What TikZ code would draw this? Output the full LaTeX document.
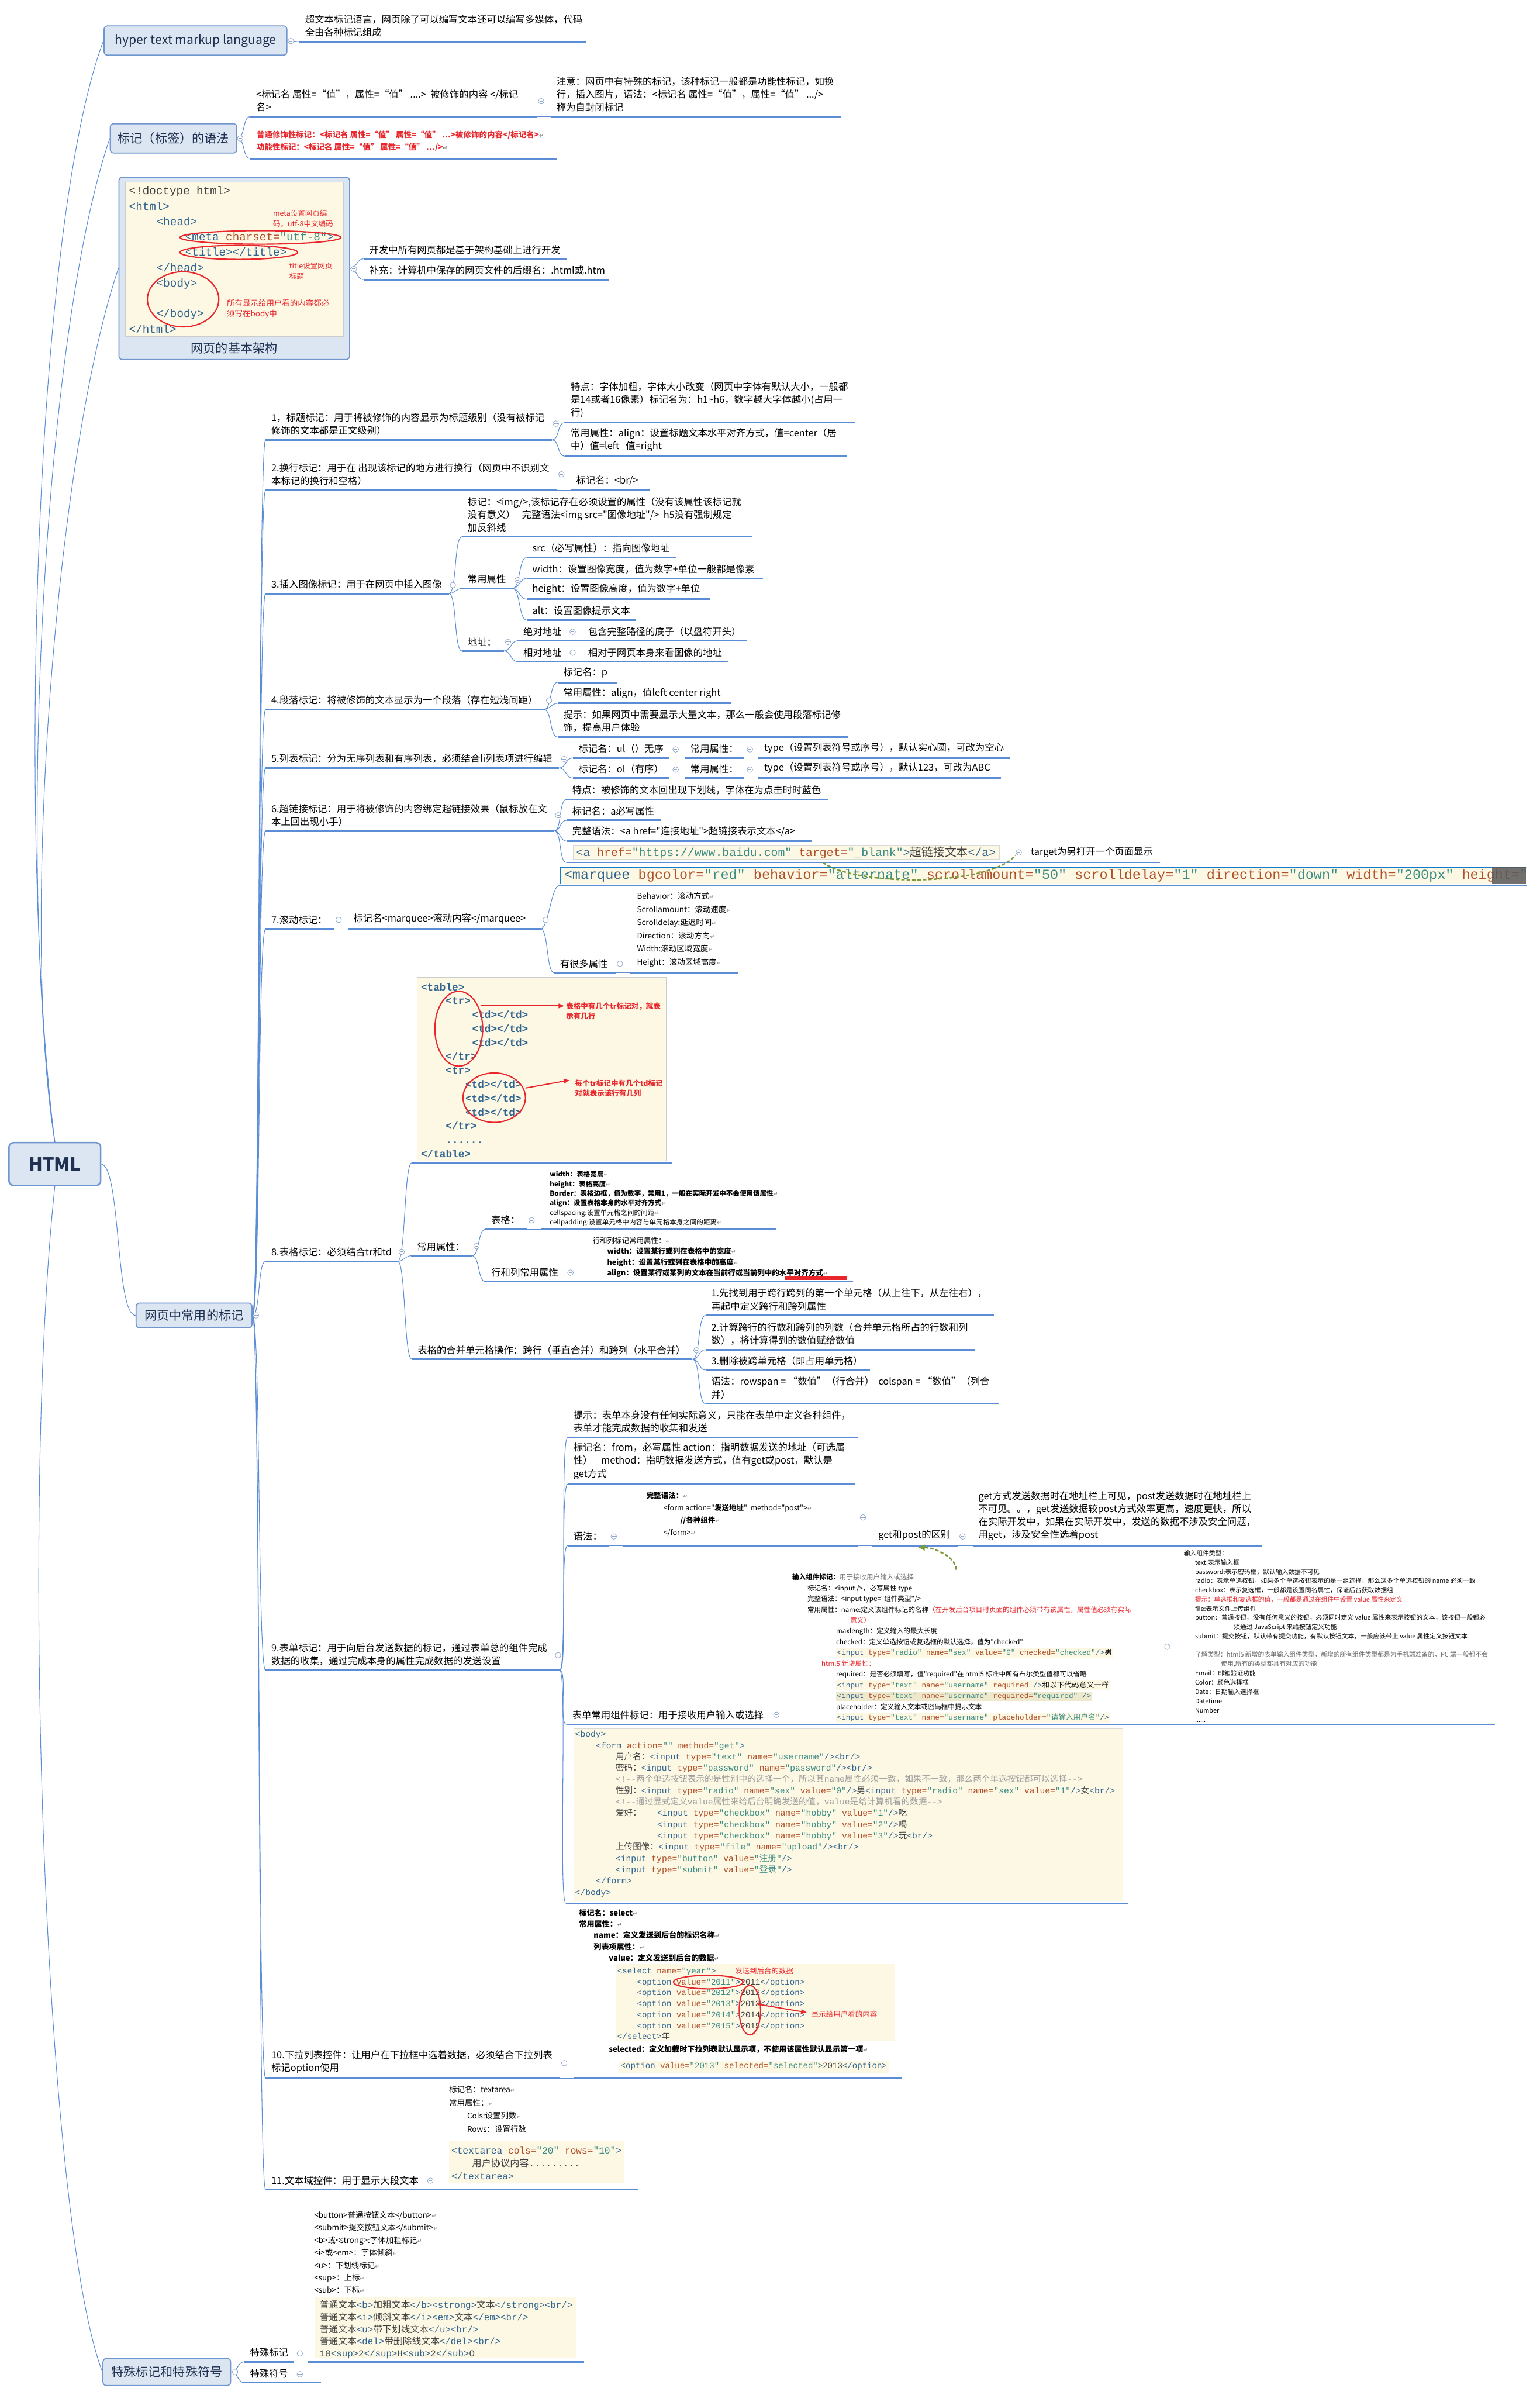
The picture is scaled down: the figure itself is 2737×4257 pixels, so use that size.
\documentclass[tikz,border=0pt]{standalone}
\usepackage{fontspec}
\usetikzlibrary{arrows.meta}
\newfontfamily\zhf{Noto Sans CJK SC}
\setmonofont{Liberation Mono}
\newfontfamily\djv{DejaVu Sans}
\definecolor{lb}{RGB}{91,141,214}
\definecolor{bxf}{HTML}{DCE6F2}
\definecolor{bxd}{HTML}{7096CF}
\definecolor{bxt}{HTML}{1F3050}
\definecolor{cream}{HTML}{FDF8E4}
\definecolor{creamd}{HTML}{EEE8CC}
\definecolor{ctag}{HTML}{2F6390}
\definecolor{catt}{HTML}{B0502A}
\definecolor{cval}{HTML}{3B8C85}
\definecolor{cgray}{HTML}{9C9C9C}
\definecolor{rd}{HTML}{E8262B}
\definecolor{gdash}{HTML}{7A9A3A}
\definecolor{ccol}{HTML}{8FA8CC}
\newcommand\fMain{\zhf\fontsize{8.5}{11.5}\selectfont}
\newcommand\fBox{\zhf\fontsize{11}{13}\selectfont}
\newcommand\rtn{{\djv\fontsize{5}{6}\selectfont\textcolor{gray}{↵}}}
\newcommand\cT[1]{\textcolor{ctag}{#1}}
\newcommand\cA[1]{\textcolor{catt}{#1}}
\newcommand\cV[1]{\textcolor{cval}{#1}}
\newcommand\zg[1]{{\zhf\color{black!75}#1}}
\newcommand\mmn[6][]{\draw[ul] (#3,#5) coordinate (#2l) -- (#4,#5) coordinate (#2r); \node[tx,#1] (#2) at (#3,#5) {#6};}
\newcommand\mmu[4]{\draw[ul] (#2,#4) coordinate (#1l) -- (#3,#4) coordinate (#1r);}
\newcommand\mml[2]{\draw[conn] (#1) to[out=0,in=180,max distance=7pt] (#2);}
\newcommand\mmc[3]{\node[cc] (#1) at (#2,#3) {};}
\setlength\fboxsep{0.8pt}
\tikzset{
 ul/.style={draw=lb, line width=1.5pt},
 conn/.style={draw=lb, line width=0.55pt},
 tx/.style={anchor=south west, inner sep=0pt, xshift=5pt, yshift=4pt, align=left, font=\fMain},
 blk/.style={anchor=north west, inner sep=0pt, align=left},
 cc/.style={circle, draw=ccol, fill=white, minimum size=5pt, inner sep=0pt, line width=0.4pt,
   path picture={\draw[ccol, line width=0.45pt] ([xshift=-1.5pt]path picture bounding box.center) -- ([xshift=1.5pt]path picture bounding box.center);}},
 box/.style={draw=bxd, fill=bxf, rounded corners=3pt, line width=0.9pt, font=\fBox, text=bxt, inner sep=0pt},
 gd/.style={draw=gdash, line width=1.3pt, dash pattern=on 3pt off 1.8pt},
 ann/.style={anchor=north west, inner sep=0pt, align=left, text=rd},
 ell/.style={draw=rd, line width=1.1pt},
 ra/.style={draw=rd, line width=1pt, -{Triangle[length=5pt,width=4pt]}},
}
\begin{document}
\begin{tikzpicture}[x=0.5pt,y=-0.5pt]
\useasboundingbox (0,0) rectangle (2737,4257);
\fill[white] (0,0) rectangle (2737,4257);

% ---------- level 1 boxes ----------
\node[box, line width=1.3pt, rounded corners=4pt, minimum width=81.5pt, minimum height=38pt, font=\zhf\bfseries\fontsize{16}{18}\selectfont] (root) at (97.5,2069) {HTML};
\node[box, minimum width=162.5pt, minimum height=26pt] (hyper) at (347.5,72) {hyper text markup language};
\node[box, minimum width=112.5pt, minimum height=26pt] (syn) at (308.5,246) {标记（标签）的语法};
\node[box, minimum width=205pt, minimum height=162pt] (arch) at (416.5,477) {};
\node[box, minimum width=103pt, minimum height=22pt] (common) at (345,2338) {网页中常用的标记};
\node[box, minimum width=113.5pt, minimum height=24pt] (special) at (296.5,4216) {特殊标记和特殊符号};

\draw[conn] (root.north) .. controls (30,1500) and (60,400) .. (hyper.west);
\draw[conn] (root.north) .. controls (30,1550) and (75,600) .. (syn.west);
\draw[conn] (root.north) .. controls (35,1650) and (100,800) .. (arch.west);
\draw[conn] (root.east) .. controls (215,2075) and (205,2338) .. (common.west);
\draw[conn] (root.south) .. controls (35,2700) and (80,3950) .. (special.west);

% ---------- A ----------
\mmn{A1}{532}{1042}{74}{超文本标记语言，网页除了可以编写文本还可以编写多媒体，代码\\全由各种标记组成}

% ---------- B ----------
\mmn{B1}{445}{954}{207}{<标记名 属性=“值”，属性=“值” ....>\ \ 被修饰的内容 </标记\\名>}
\mmn{B1a}{979}{1494}{207}{注意：网页中有特殊的标记，该种标记一般都是功能性标记，如换\\行，插入图片，语法：<标记名 属性=“值”，属性=“值” .../>\\称为自封闭标记}
\mmu{B2}{445}{989}{282}
\node[blk, font=\zhf\bfseries\fontsize{7}{11}\selectfont, text=rd] (B2t) at (456,232) {普通修饰性标记：<标记名 属性=“值” 属性=“值” …>被修饰的内容</标记名>\rtn\\功能性标记：<标记名 属性=“值” 属性=“值” …/>\rtn};

% ---------- C (architecture) ----------
\node[draw=gray!40, fill=cream, minimum width=193.5pt, minimum height=137pt, inner sep=0pt] (archimg) at (416.5,461) {};
\node[blk, font=\ttfamily\fontsize{10}{13.65}\selectfont, text=ctag] (archcode) at (229,331) {%
\textcolor{darkgray}{<!doctype html>}\\
<html>\\
\hspace*{24.5pt}<head>\\
\hspace*{50pt}<meta \cA{charset=}\cV{"utf-8"}>\\
\hspace*{50pt}<title></title>\\
\hspace*{24.5pt}</head>\\
\hspace*{24.5pt}<body>\\
\mbox{}\\
\hspace*{24.5pt}</body>\\
</html>};
\node[ann, font=\zhf\fontsize{6.5}{9.5}\selectfont] (an1) at (485,372.5) {meta设置网页编\\码，utf-8中文编码};
\node[ann, font=\zhf\fontsize{6.5}{9.5}\selectfont] (an2) at (514,466.5) {title设置网页\\标题};
\node[ann, font=\zhf\fontsize{7}{9.5}\selectfont] (an3) at (403,532) {所有显示给用户看的内容都必\\须写在body中};
\draw[ell] (463,422) ellipse [x radius=143, y radius=12];
\draw[ell] (424.5,448.5) ellipse [x radius=104.5, y radius=12.5];
\draw[ell] (325.5,532) ellipse [x radius=63.5, y radius=49];
\node[font=\fBox, text=bxt, inner sep=0pt] (archt) at (416.5,619) {网页的基本架构};
\mmn{C1}{646}{1007}{460}{开发中所有网页都是基于架构基础上进行开发}
\mmn{C2}{646}{1083}{497}{补充：计算机中保存的网页文件的后缀名：.html或.htm}

% ---------- D ----------
\mmn{D1}{472}{981}{782}{1，标题标记：用于将被修饰的内容显示为标题级别（没有被标记\\修饰的文本都是正文级别）}
\mmn{D1a}{1004}{1521}{751}{特点：字体加粗，字体大小改变（网页中字体有默认大小，一般都\\是14或者16像素）标记名为：h1\textasciitilde h6，数字越大字体越小(占用一\\行)}
\mmn{D1b}{1004}{1506}{811}{常用属性：align：设置标题文本水平对齐方式，值=center（居\\中）值=left\ \ \ 值=right}
\mmn{D2}{472}{989}{871}{2.换行标记：用于在 出现该标记的地方进行换行（网页中不识别文\\本标记的换行和空格）}
\mmn{D2a}{1014}{1155}{871}{标记名：<br/>}
\mmn{D3}{472}{798}{1055}{3.插入图像标记：用于在网页中插入图像}
\mmn{D3a}{821}{1337}{954}{标记：<img/>,该标记存在必须设置的属性（没有该属性该标记就\\没有意义）\ \ \ 完整语法<img src="图像地址"/>\ \ h5没有强制规定\\加反斜线}
\mmn{D3b}{821}{911}{1046}{常用属性}
\mmn{D3b1}{936}{1202}{991}{src（必写属性）：指向图像地址}
\mmn{D3b2}{936}{1356}{1028}{width：设置图像宽度，值为数字+单位一般都是像素}
\mmn{D3b3}{936}{1262}{1065}{height：设置图像高度，值为数字+单位}
\mmn{D3b4}{936}{1131}{1102}{alt：设置图像提示文本}
\mmn{D3c}{821}{896}{1157}{地址：}
\mmn{D3c1}{920}{1010}{1139}{绝对地址}
\mmn{D3c1a}{1035}{1328}{1139}{包含完整路径的底子（以盘符开头）}
\mmn{D3c2}{920}{1010}{1176}{相对地址}
\mmn{D3c2a}{1035}{1295}{1176}{相对于网页本身来看图像的地址}
\mmn{D4}{472}{967}{1261}{4.段落标记：将被修饰的文本显示为一个段落（存在短浅间距）}
\mmn{D4a}{991}{1098}{1213}{标记名：p}
\mmn{D4b}{991}{1300}{1250}{常用属性：align，值left center right}
\mmn{D4c}{991}{1507}{1310}{提示：如果网页中需要显示大量文本，那么一般会使用段落标记修\\饰，提高用户体验}
\mmn{D5}{472}{994}{1365}{5.列表标记：分为无序列表和有序列表，必须结合li列表项进行编辑}
\mmn{D5a}{1018}{1190}{1347}{标记名：ul（）无序}
\mmn{D5a1}{1217}{1322}{1347}{常用属性：}
\mmn{D5a2}{1348}{1795}{1347}{type（设置列表符号或序号），默认实心圆，可改为空心}
\mmn{D5b}{1018}{1190}{1383}{标记名：ol（有序）}
\mmn{D5b1}{1217}{1322}{1383}{常用属性：}
\mmn{D5b2}{1348}{1779}{1383}{type（设置列表符号或序号），默认123，可改为ABC}
\mmn{D6}{472}{985}{1477}{6.超链接标记：用于将被修饰的内容绑定超链接效果（鼠标放在文\\本上回出现小手）}
\mmn{D6a}{1007}{1473}{1421}{特点：被修饰的文本回出现下划线，字体在为点击时时蓝色}
\mmn{D6b}{1007}{1175}{1458}{标记名：a必写属性}
\mmn{D6c}{1007}{1443}{1495}{完整语法：<a href="连接地址">超链接表示文本</a>}
\mmu{D6d}{1007}{1817}{1533}
\node[anchor=west, fill=cream, draw=gray!30, inner xsep=3pt, inner ysep=0pt, minimum height=12.5pt, font=\ttfamily\fontsize{10.3}{12}\selectfont] (D6dc) at (1018,1515) {\cT{<a} \cA{href=}\cV{"https://www.baidu.com"} \cA{target=}\cV{"\_blank"}\cT{>}\zg{超链接文本}\cT{</a>}};
\mmn{D6t}{1822}{2062}{1533}{target为另打开一个页面显示}

% marquee example (child of D7a)
\mmu{D7m}{994}{2715}{1574}
\begin{scope}
\clip (990,1535) rectangle (2713,1580);
\node[anchor=west, fill=cream, draw=cyan!60!blue, line width=0.8pt, inner xsep=3pt, inner ysep=0pt, minimum height=15pt, font=\ttfamily\fontsize{12.2}{14}\selectfont] (D7mc) at (996,1556) {\cT{<marquee} \cA{bgcolor=}\cV{"red"} \cA{behavior=}\cV{"alternate"} \cA{scrollamount=}\cV{"50"} \cA{scrolldelay=}\cV{"1"} \cA{direction=}\cV{"down"} \cA{width=}\cV{"200px"} \cA{height=}\cV{"}};
\fill[black!65, fill opacity=0.85] (2652,1541) rectangle (2713,1571);
\end{scope}
\coordinate (ga1) at (1463,1533);
\coordinate (ga2) at (1805,1520);
\draw[gd] (ga1) .. controls (1520,1576) and (1760,1576) .. (ga2);

\mmn{D7}{472}{593}{1651}{7.滚动标记：}
\mmn{D7a}{618}{961}{1651}{标记名<marquee>滚动内容</marquee>}
\mmn{D7a1}{985}{1094}{1729}{有很多属性}
\mmu{D7a1a}{1119}{1313}{1729}
\node[blk, font=\zhf\fontsize{7}{11.7}\selectfont] (D7a1at) at (1132,1586) {Behavior：滚动方式\rtn\\Scrollamount：滚动速度\rtn\\Scrolldelay:延迟时间\rtn\\Direction：滚动方向\rtn\\Width:滚动区域宽度\rtn\\Height：滚动区域高度\rtn};

% table
\mmn{D8}{472}{707}{2242}{8.表格标记：必须结合tr和td}
\mmu{D8a}{732}{1194}{2067}
\node[draw=gray!40, fill=cream, minimum width=221.5pt, minimum height=163pt, inner sep=0pt] (D8aimg) at (962.5,1900) {};
\node[blk, font=\ttfamily\bfseries\fontsize{9.2}{12.35}\selectfont, text=ctag] (D8acode) at (748,1747) {%
<table>\\
\hspace*{22pt}<tr>\\
\hspace*{45.5pt}<td></td>\\
\hspace*{45.5pt}<td></td>\\
\hspace*{45.5pt}<td></td>\\
\hspace*{22pt}</tr>\\
\hspace*{22pt}<tr>\\
\hspace*{39.5pt}<td></td>\\
\hspace*{39.5pt}<td></td>\\
\hspace*{39.5pt}<td></td>\\
\hspace*{22pt}</tr>\\
\hspace*{22pt}......\\
</table>};
\draw[ell] (815.5,1828.5) ellipse [x radius=42.5, y radius=66.5];
\draw[ell] (878.5,1951) ellipse [x radius=55.5, y radius=44];
\coordinate (ta1) at (854,1788); \coordinate (ta2) at (1003,1788);
\coordinate (tb1) at (934,1934); \coordinate (tb2) at (1012,1920);
\draw[ra] (ta1) -- (ta2);
\draw[ra] (tb1) -- (tb2);
\node[ann, font=\zhf\bfseries\fontsize{6.5}{9}\selectfont] (D8an1) at (1006,1781.5) {表格中有几个tr标记对，就表\\示有几行};
\node[ann, font=\zhf\bfseries\fontsize{6.5}{9}\selectfont] (D8an2) at (1022,1918.5) {每个tr标记中有几个td标记\\对就表示该行有几列};
\mmn{D8b}{731}{839}{2232}{常用属性：}
\mmn{D8b1}{863}{937}{2185}{表格：}
\mmu{D8b1a}{962}{1379}{2185}
\node[blk, font=\zhf\fontsize{6}{8.5}\selectfont] (D8b1at) at (977,2081) {%
{\bfseries width：表格宽度}\rtn\\
{\bfseries height：表格高度}\rtn\\
{\bfseries Border：表格边框，值为数字，常用1，一般在实际开发中不会使用该属性}\rtn\\
{\bfseries align：设置表格本身的水平对齐方式}\rtn\\
cellspacing:设置单元格之间的间距\rtn\\
cellpadding:设置单元格中内容与单元格本身之间的距离\rtn};
\mmn{D8b2}{863}{1005}{2278}{行和列常用属性}
\mmu{D8b2a}{1029}{1516}{2278}
\node[blk, font=\zhf\fontsize{6.5}{9.6}\selectfont] (D8b2at) at (1053,2198.5) {%
行和列标记常用属性：\rtn\\
\hspace*{13pt}{\bfseries width：设置某行或列在表格中的宽度}\rtn\\
\hspace*{13pt}{\bfseries height：设置某行或列在表格中的高度}\rtn\\
\hspace*{13pt}{\bfseries align：设置某行或某列的文本在当前行或当前列中的水平对齐方式}\rtn};
\fill[rd] (1396,2269) rectangle (1506,2275);
\mmn{D8c}{732}{1231}{2416}{表格的合并单元格操作：跨行（垂直合并）和跨列（水平合并）}
\mmn{D8c1}{1254}{1767}{2338}{1.先找到用于跨行跨列的第一个单元格（从上往下，从左往右），\\再起中定义跨行和跨列属性}
\mmn{D8c2}{1254}{1733}{2399}{2.计算跨行的行数和跨列的列数（合并单元格所占的行数和列\\数），将计算得到的数值赋给数值}
\mmn{D8c3}{1254}{1546}{2435}{3.删除被跨单元格（即占用单元格）}
\mmn{D8c4}{1254}{1776}{2495}{语法：rowspan = “数值”（行合并）\ \ colspan = “数值”（列合\\并）}

% form
\mmn{D9}{472}{995}{2969}{9.表单标记：用于向后台发送数据的标记，通过表单总的组件完成\\数据的收集，通过完成本身的属性完成数据的发送设置}
\mmn{D9a}{1009}{1525}{2555}{提示：表单本身没有任何实际意义，只能在表单中定义各种组件，\\表单才能完成数据的收集和发送}
\mmn{D9b}{1009}{1521}{2638}{标记名：from，必写属性 action：指明数据发送的地址（可选属\\性）\ \ \ \ method：指明数据发送方式，值有get或post，默认是\\get方式}
\mmn{D9c}{1009}{1082}{2747}{语法：}
\mmu{D9c1}{1107}{1525}{2747}
\node[blk, font=\zhf\fontsize{6.5}{10.85}\selectfont] (D9c1t) at (1149,2652) {%
{\bfseries 完整语法：}\rtn\\
\hspace*{15pt}<form action="{\bfseries 发送地址}"\ \ method="post">\rtn\\
\hspace*{30pt}{\bfseries //各种组件}\rtn\\
\hspace*{15pt}</form>\rtn};
\mmn{D9c1a}{1551}{1703}{2747}{get和post的区别}
\mmn{D9c1a1}{1729}{2244}{2747}{get方式发送数据时在地址栏上可见，post发送数据时在地址栏上\\不可见。。，get发送数据较post方式效率更高，速度更快，所以\\在实际开发中，如果在实际开发中，发送的数据不涉及安全问题，\\用get，涉及安全性选着post}
\coordinate (gb1) at (1699,2790);
\coordinate (gb2) at (1632,2750);
\draw[gd, -{Triangle[length=6pt,width=5pt]}] (gb1) .. controls (1702,2772) and (1668,2752) .. (gb2);
\mmn{D9d}{1007}{1370}{3065}{表单常用组件标记：用于接收用户输入或选择}
\mmu{D9d1}{1395}{2065}{3065}
\node[blk, font=\zhf\fontsize{6}{9.6}\selectfont] (D9d1t) at (1408,2797) {%
{\bfseries 输入组件标记：}\textcolor{black!55}{用于接收用户输入或选择}\\
\hspace*{13.5pt}标记名：<input />，必写属性 type\\
\hspace*{13.5pt}完整语法：<input type="组件类型"/>\\
\hspace*{13.5pt}常用属性：name:定义该组件标记的名称\textcolor{rd}{（在开发后台项目时页面的组件必须带有该属性，属性值必须有实际}\\
\hspace*{51.5pt}\textcolor{rd}{意义）}\\
\hspace*{39pt}maxlength：定义输入的最大长度\\
\hspace*{39pt}checked：定义单选按钮或复选框的默认选择，值为"checked"\\
\hspace*{39pt}\colorbox{cream}{\ttfamily\fontsize{6.6}{8}\selectfont\cT{<input} \cA{type=}\cV{"radio"} \cA{name=}\cV{"sex"} \cA{value=}\cV{"0"} \cA{checked=}\cV{"checked"}\cT{/>}{\zhf 男}}\\
\hspace*{26pt}\textcolor{rd}{html5 新增属性：}\\
\hspace*{39pt}required：是否必须填写，值"required"在 html5 标准中所有布尔类型值都可以省略\\
\hspace*{39pt}\colorbox{cream}{\ttfamily\fontsize{6.6}{8}\selectfont\cT{<input} \cA{type=}\cV{"text"} \cA{name=}\cV{"username"} \cA{required} \cT{/>}{\zhf 和以下代码意义一样}}\\
\hspace*{39pt}\colorbox{creamd}{\ttfamily\fontsize{6.6}{8}\selectfont\cT{<input} \cA{type=}\cV{"text"} \cA{name=}\cV{"username"} \cA{required=}\cV{"required"} \cT{/>}}\\
\hspace*{39pt}placeholder：定义输入文本或密码框中提示文本\\
\hspace*{39pt}\colorbox{cream}{\ttfamily\fontsize{6.6}{8}\selectfont\cT{<input} \cA{type=}\cV{"text"} \cA{name=}\cV{"username"} \cA{placeholder=}\cV{"{\zhf 请输入用户名}"}\cT{/>}}};
\mmu{D9d1a}{2090}{2657}{3065}
\node[blk, font=\zhf\fontsize{5.6}{8.17}\selectfont] (D9d1at) at (2104,2755.5) {%
输入组件类型：\\
\hspace*{10pt}text:表示输入框\\
\hspace*{10pt}password:表示密码框，默认输入数据不可见\\
\hspace*{10pt}radio：表示单选按钮，如果多个单选按钮表示的是一组选择，那么这多个单选按钮的 name 必须一致\\
\hspace*{10pt}checkbox：表示复选框，一般都是设置同名属性，保证后台获取数据组\\
\hspace*{10pt}\textcolor{rd}{提示：单选框和复选框的值，一般都是通过在组件中设置 value 属性来定义}\\
\hspace*{10pt}file:表示文件上传组件\\
\hspace*{10pt}button：普通按钮，没有任何意义的按钮，必须同时定义 value 属性来表示按钮的文本，该按钮一般都必\\
\hspace*{44.5pt}须通过 JavaScript 来给按钮定义功能\\
\hspace*{10pt}submit：提交按钮，默认带有提交功能，有默认按钮文本，一般应该带上 value 属性定义按钮文本};
\node[blk, font=\zhf\fontsize{5.6}{8.36}\selectfont] (D9d1bt) at (2124,2934.5) {%
\textcolor{black!60}{了解类型：html5 新增的表单输入组件类型，新增的所有组件类型都是为手机端准备的，PC 端一般都不会}\\
\hspace*{23pt}\textcolor{black!60}{使用,所有的类型都具有对应的功能}\\
Email：邮箱验证功能\\
Color：颜色选择框\\
Date：日期输入选择框\\
Datetime\\
Number\\
......};
\mmu{D9e}{1006}{2005}{3383}
\node[draw=gray!30, fill=cream, minimum width=488pt, minimum height=153pt, inner sep=0pt] (D9eimg) at (1508,3226) {};
\node[blk, font=\ttfamily\fontsize{7.6}{10.04}\selectfont, text=ctag] (D9ecode) at (1022,3076) {%
<body>\\
\hspace*{18.5pt}<form \cA{action=}\cV{""} \cA{method=}\cV{"get"}>\\
\hspace*{36pt}\zg{用户名：}<input \cA{type=}\cV{"text"} \cA{name=}\cV{"username"}/><br/>\\
\hspace*{36pt}\zg{密码：}<input \cA{type=}\cV{"password"} \cA{name=}\cV{"password"}/><br/>\\
\hspace*{36pt}\textcolor{cgray}{<!--{\zhf 两个单选按钮表示的是性别中的选择一个，所以其}name{\zhf 属性必须一致，如果不一致，那么两个单选按钮都可以选择}-->}\\
\hspace*{36pt}\zg{性别：}<input \cA{type=}\cV{"radio"} \cA{name=}\cV{"sex"} \cA{value=}\cV{"0"}/>\zg{男}<input \cA{type=}\cV{"radio"} \cA{name=}\cV{"sex"} \cA{value=}\cV{"1"}/>\zg{女}<br/>\\
\hspace*{36pt}\textcolor{cgray}{<!--{\zhf 通过显式定义}value{\zhf 属性来给后台明确发送的值，}value{\zhf 是给计算机看的数据}-->}\\
\hspace*{36pt}\makebox[37pt][l]{\zg{爱好：}}<input \cA{type=}\cV{"checkbox"} \cA{name=}\cV{"hobby"} \cA{value=}\cV{"1"}/>\zg{吃}\\
\hspace*{73pt}<input \cA{type=}\cV{"checkbox"} \cA{name=}\cV{"hobby"} \cA{value=}\cV{"2"}/>\zg{喝}\\
\hspace*{73pt}<input \cA{type=}\cV{"checkbox"} \cA{name=}\cV{"hobby"} \cA{value=}\cV{"3"}/>\zg{玩}<br/>\\
\hspace*{36pt}\zg{上传图像：}<input \cA{type=}\cV{"file"} \cA{name=}\cV{"upload"}/><br/>\\
\hspace*{36pt}<input \cA{type=}\cV{"button"} \cA{value=}\cV{"{\zhf 注册}"}/>\\
\hspace*{36pt}<input \cA{type=}\cV{"submit"} \cA{value=}\cV{"{\zhf 登录}"}/>\\
\hspace*{18.5pt}</form>\\
</body>};

% select
\mmn{D10}{472}{995}{3694}{10.下拉列表控件：让用户在下拉框中选着数据，必须结合下拉列表\\标记option使用}
\mmu{D10a}{1020}{1604}{3694}
\node[blk, font=\zhf\bfseries\fontsize{6.8}{10}\selectfont] (D10at) at (1029,3393) {标记名：select\rtn\\常用属性：\rtn\\\hspace*{13pt}name：定义发送到后台的标识名称\rtn\\\hspace*{13pt}列表项属性：\rtn\\\hspace*{26.5pt}value：定义发送到后台的数据\rtn};
\node[fill=cream, minimum width=247.5pt, minimum height=68.5pt, inner sep=0pt] (D10aimg) at (1342.5,3559.5) {};
\node[blk, font=\ttfamily\fontsize{7.3}{9.75}\selectfont, text=ctag] (D10acode) at (1097,3497) {%
<select \cA{name=}\cV{"year"}>\\
\hspace*{17.5pt}<option \cA{value=}\cV{"2011"}>\textcolor{black!75}{2011}</option>\\
\hspace*{17.5pt}<option \cA{value=}\cV{"2012"}>\textcolor{black!75}{2012}</option>\\
\hspace*{17.5pt}<option \cA{value=}\cV{"2013"}>\textcolor{black!75}{2013}</option>\\
\hspace*{17.5pt}<option \cA{value=}\cV{"2014"}>\textcolor{black!75}{2014}</option>\\
\hspace*{17.5pt}<option \cA{value=}\cV{"2015"}>\textcolor{black!75}{2015}</option>\\
</select>\zg{年}};
\node[ann, anchor=west, font=\zhf\fontsize{6.5}{8}\selectfont] (D10an1) at (1306,3503) {发送到后台的数据};
\node[ann, anchor=west, font=\zhf\fontsize{6.5}{8}\selectfont] (D10an2) at (1442,3580) {显示给用户看的内容};
\draw[ell] (1259,3523) ellipse [x radius=62, y radius=12];
\draw[ell] (1333,3573) ellipse [x radius=19, y radius=44];
\coordinate (sa1) at (1345,3562); \coordinate (sa2) at (1434,3577);
\draw[ra] (sa1) -- (sa2);
\node[blk, font=\zhf\bfseries\fontsize{6.8}{10}\selectfont] (D10as) at (1082,3635) {selected：定义加载时下拉列表默认显示项，不使用该属性默认显示第一项\rtn};
\node[anchor=west, fill=cream, inner xsep=2pt, inner ysep=2pt, font=\ttfamily\fontsize{7.3}{9}\selectfont, text=ctag] (D10ac2) at (1099,3673) {<option \cA{value=}\cV{"2013"} \cA{selected=}\cV{"selected"}>\textcolor{black!75}{2013}</option>};

% textarea
\mmn{D11}{472}{755}{3892}{11.文本域控件：用于显示大段文本}
\mmu{D11a}{780}{1134}{3892}
\node[blk, font=\zhf\fontsize{7}{11.75}\selectfont] (D11at) at (798,3707) {标记名：textarea\rtn\\常用属性：\rtn\\\hspace*{16pt}Cols:设置列数\rtn\\\hspace*{16pt}Rows：设置行数};
\node[fill=cream, minimum width=155.5pt, minimum height=37.5pt, inner sep=0pt] (D11aimg) at (953.5,3842.5) {};
\node[blk, font=\ttfamily\fontsize{8.4}{11.25}\selectfont, text=ctag] (D11acode) at (802,3816) {<textarea \cA{cols=}\cV{"20"} \cA{rows=}\cV{"10"}>\\\hspace*{18.5pt}\zg{用户协议内容}\textcolor{black!70}{.........}\\</textarea>};

% ---------- E ----------
\mmn{E1}{434}{523}{4198}{特殊标记}
\mmu{E1a}{548}{1038}{4198}
\node[blk, font=\zhf\fontsize{7}{11.15}\selectfont] (E1at) at (558,3930) {<button>普通按钮文本</button>\rtn\\<submit>提交按钮文本</submit>\rtn\\<b>或<strong>:字体加粗标记\rtn\\<i>或<em>：字体倾斜\rtn\\<u>：下划线标记\rtn\\<sup>：上标\rtn\\<sub>：下标\rtn};
\node[fill=cream, minimum width=232pt, minimum height=53.5pt, inner sep=0pt] (E1aimg) at (792,4136.5) {};
\node[blk, font=\ttfamily\fontsize{8.2}{10.87}\selectfont, text=ctag] (E1acode) at (568,4088) {%
\zg{普通文本}<b>\zg{加粗文本}</b><strong>\zg{文本}</strong><br/>\\
\zg{普通文本}<i>\zg{倾斜文本}</i><em>\zg{文本}</em><br/>\\
\zg{普通文本}<u>\zg{带下划线文本}</u><br/>\\
\zg{普通文本}<del>\zg{带删除线文本}</del><br/>\\
\textcolor{black!70}{10}<sup>\textcolor{black!70}{2}</sup>\textcolor{black!70}{H}<sub>\textcolor{black!70}{2}</sub>\textcolor{black!70}{O}};
\mmn{E2}{434}{523}{4235}{特殊符号}
\mmu{E2a}{548}{571}{4235}

% ---------- connectors ----------
\mml{hyper.east}{A1l}
\mml{syn.east}{B1l} \mml{syn.east}{B2l} \mml{B1r}{B1al}
\mml{arch.east}{C1l} \mml{arch.east}{C2l}
\mml{common.east}{D1l} \mml{common.east}{D2l} \mml{common.east}{D3l} \mml{common.east}{D4l}
\mml{common.east}{D5l} \mml{common.east}{D6l} \mml{common.east}{D7l} \mml{common.east}{D8l}
\mml{common.east}{D9l} \mml{common.east}{D10l} \mml{common.east}{D11l}
\mml{D1r}{D1al} \mml{D1r}{D1bl}
\mml{D2r}{D2al}
\mml{D3r}{D3al} \mml{D3r}{D3bl} \mml{D3r}{D3cl}
\mml{D3br}{D3b1l} \mml{D3br}{D3b2l} \mml{D3br}{D3b3l} \mml{D3br}{D3b4l}
\mml{D3cr}{D3c1l} \mml{D3cr}{D3c2l} \mml{D3c1r}{D3c1al} \mml{D3c2r}{D3c2al}
\mml{D4r}{D4al} \mml{D4r}{D4bl} \mml{D4r}{D4cl}
\mml{D5r}{D5al} \mml{D5r}{D5bl} \mml{D5ar}{D5a1l} \mml{D5a1r}{D5a2l} \mml{D5br}{D5b1l} \mml{D5b1r}{D5b2l}
\mml{D6r}{D6al} \mml{D6r}{D6bl} \mml{D6r}{D6cl} \mml{D6r}{D6dl} \mml{D6dr}{D6tl}
\mml{D7r}{D7al} \mml{D7ar}{D7ml} \mml{D7ar}{D7a1l} \mml{D7a1r}{D7a1al}
\mml{D8r}{D8al} \mml{D8r}{D8bl} \mml{D8r}{D8cl}
\mml{D8br}{D8b1l} \mml{D8br}{D8b2l} \mml{D8b1r}{D8b1al} \mml{D8b2r}{D8b2al}
\mml{D8cr}{D8c1l} \mml{D8cr}{D8c2l} \mml{D8cr}{D8c3l} \mml{D8cr}{D8c4l}
\mml{D9r}{D9al} \mml{D9r}{D9bl} \mml{D9r}{D9cl} \mml{D9r}{D9dl} \mml{D9r}{D9el}
\mml{D9cr}{D9c1l} \mml{D9c1r}{D9c1al} \mml{D9c1ar}{D9c1a1l}
\mml{D9dr}{D9d1l} \mml{D9d1r}{D9d1al}
\mml{D10r}{D10al}
\mml{D11r}{D11al}
\mml{special.east}{E1l} \mml{special.east}{E2l} \mml{E1r}{E1al} \mml{E2r}{E2al}

% ---------- collapse circles ----------
\mmc{c1}{517}{73} \mmc{c2}{427}{246} \mmc{c3}{962}{180} \mmc{c4}{629}{478}
\mmc{c5}{455}{2338} \mmc{c6}{988}{753} \mmc{c7}{998}{843} \mmc{c8}{805}{1040}
\mmc{c9}{920}{1031} \mmc{c10}{903}{1141} \mmc{c11}{1018}{1123} \mmc{c12}{1018}{1160}
\mmc{c13}{976}{1245} \mmc{c14}{1003}{1349} \mmc{c15}{1201}{1332} \mmc{c16}{1333}{1332}
\mmc{c17}{1201}{1368} \mmc{c18}{1333}{1368} \mmc{c19}{992}{1449} \mmc{c20}{1811}{1515}
\mmc{c21}{602}{1635} \mmc{c22}{970}{1635} \mmc{c23}{1102}{1713} \mmc{c24}{714}{2225}
\mmc{c25}{847}{2215} \mmc{c26}{945}{2169} \mmc{c27}{1014}{2262} \mmc{c28}{1238}{2400}
\mmc{c29}{992}{2942} \mmc{c30}{1091}{2731} \mmc{c31}{1534}{2697} \mmc{c32}{1711}{2731}
\mmc{c33}{1380}{3048} \mmc{c34}{2075}{2927} \mmc{c35}{1003}{3667} \mmc{c36}{765}{3876}
\mmc{c37}{418}{4216} \mmc{c38}{533}{4183} \mmc{c39}{533}{4220}
\end{tikzpicture}
\end{document}
